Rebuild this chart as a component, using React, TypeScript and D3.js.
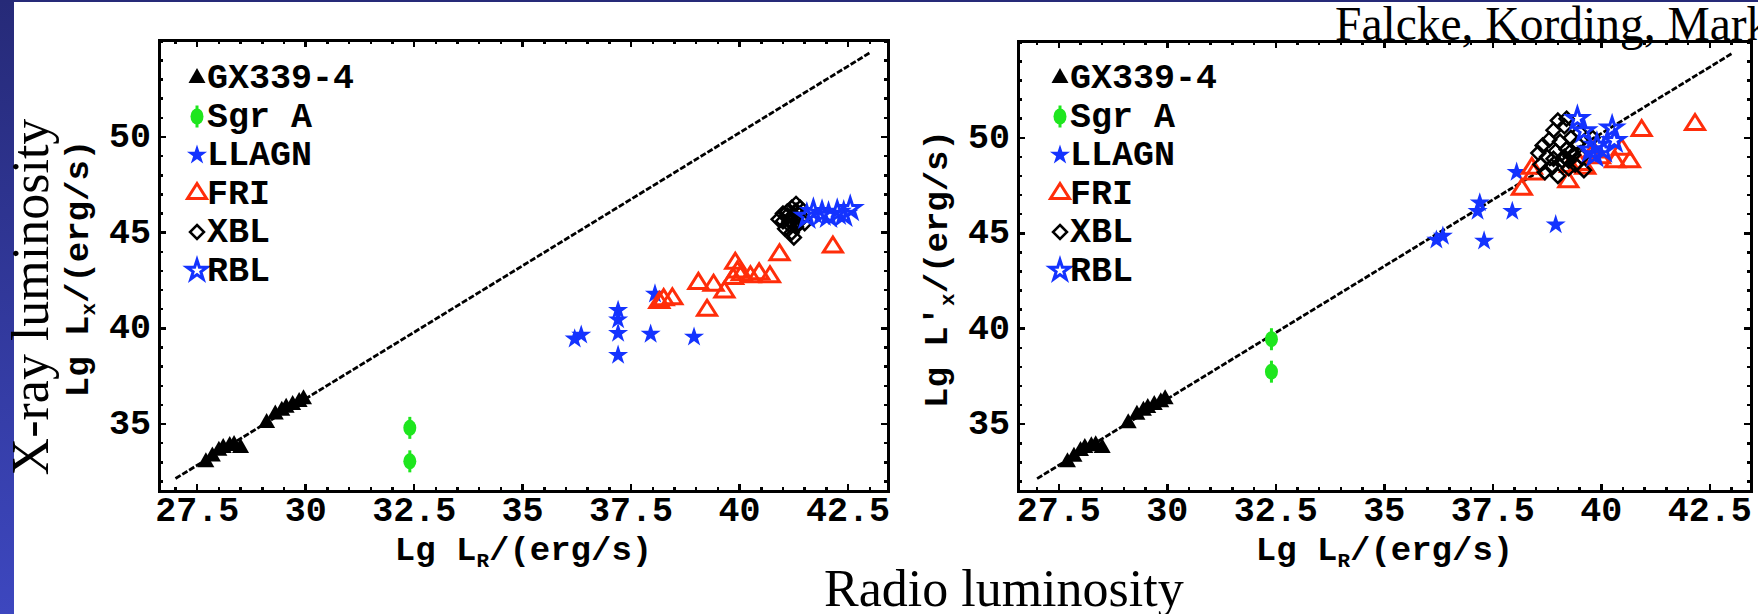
import React from 'react';
import * as d3 from 'd3';

const W = 1758;
const H = 614;

// GX339-4, same in both panels
const gxX = [27.7, 27.85, 28.0, 28.1, 28.25, 28.35, 28.5, 29.1, 29.3, 29.45, 29.55, 29.7, 29.85, 29.95];
const gxY = [33.0, 33.3, 33.6, 33.75, 33.85, 33.9, 33.75, 35.05, 35.5, 35.7, 35.85, 36.0, 36.15, 36.3];

// Sgr A
const sgrX = [32.4, 32.4];
const sgrYLeft = [34.8, 33.05];
const sgrYRight = [39.45, 37.75];

// LLAGN
const llagnXLeft = [36.2, 36.35, 37.2, 37.2, 37.2, 37.2, 37.95, 38.95, 38.05];
const llagnYLeft = [39.45, 39.65, 40.95, 40.45, 39.75, 38.6, 39.7, 39.55, 41.8];
const llagnXRight = [36.2, 36.35, 37.2, 37.15, 37.3, 37.95, 38.95, 38.05];
const llagnYRight = [44.65, 44.85, 46.6, 46.15, 44.6, 46.15, 45.45, 48.2];

// FRI
const friXLeft = [38.15, 38.25, 38.45, 39.05, 39.4, 39.65, 39.25, 39.9, 39.95, 39.85, 40.05, 40.25, 40.45, 40.7, 40.92, 42.15];
const friYLeft = [41.35, 41.5, 41.55, 42.35, 42.25, 41.9, 40.95, 43.4, 42.95, 42.6, 42.8, 42.7, 42.85, 42.7, 43.85, 44.25];
const friXRight = [38.17, 38.44, 39.24, 39.63, 39.97, 39.51, 39.28, 40.32, 40.66, 40.47, 40.93, 42.16, 39.82, 38.4];
const friYRight = [47.3, 48.1, 47.7, 48.4, 48.95, 48.6, 48.5, 48.75, 48.75, 49.4, 50.38, 50.7, 49.25, 48.4];

// XBL
const xblXLeft = [41.0, 41.1, 41.2, 41.3, 41.15, 41.25, 41.35, 41.45, 41.05, 41.3, 41.4, 40.9, 41.2, 41.25, 41.5, 41.1, 41.35, 41.0, 41.2, 41.3, 41.15, 41.25];
const xblYLeft = [45.6, 45.9, 46.3, 46.5, 45.4, 45.7, 46.0, 45.8, 45.2, 45.3, 46.3, 45.7, 45.0, 44.75, 45.5, 46.1, 45.55, 46.0, 45.85, 46.15, 45.6, 45.45];
const xblXRight = [38.55, 38.6, 38.65, 38.7, 38.75, 38.8, 38.85, 38.9, 38.95, 39.0, 39.05, 39.1, 39.15, 39.2, 39.25, 39.3, 39.35, 39.4, 39.45, 39.5, 39.55, 39.6, 39.7, 39.8, 38.9, 39.0, 39.2, 39.15, 39.3, 39.25];
const xblYRight = [49.2, 48.6, 49.6, 48.2, 49.0, 49.9, 48.5, 50.4, 49.3, 48.0, 49.8, 48.8, 50.6, 49.4, 48.4, 50.0, 49.1, 48.6, 49.7, 50.3, 49.0, 48.3, 49.5, 50.0, 48.9, 50.9, 51.0, 49.0, 49.3, 48.8];

// RBL
const rblXLeft = [41.55, 41.7, 41.9, 42.05, 42.25, 42.4, 42.55];
const rblYLeft = [45.85, 46.1, 46.0, 45.9, 46.05, 45.95, 46.25];
const rblXRight = [39.45, 39.6, 39.75, 39.9, 40.05, 40.25, 40.3, 39.85];
const rblYRight = [51.0, 50.35, 49.35, 49.6, 49.35, 50.5, 49.85, 49.1];

// relation line
const lineX = [27.0, 43.0];
const lineY = [32.15, 54.4];

const xTicks = [27.5, 30, 32.5, 35, 37.5, 40, 42.5];
const xTickLabels = ['27.5', '30', '32.5', '35', '37.5', '40', '42.5'];
const yTicks = [35, 40, 45, 50];
const yTickLabels = ['35', '40', '45', '50'];
const legendNames = ['GX339-4', 'Sgr A', 'LLAGN', 'FRI', 'XBL', 'RBL'];
const legendKinds = ['gx', 'sgr', 'llagn', 'fri', 'xbl', 'rbl'];

const mono = '"Liberation Mono", "DejaVu Sans Mono", monospace';
const serif = '"Liberation Serif", "DejaVu Serif", serif';
const BLUE = '#1433ff';
const RED = '#ff2d0a';
const GREEN = '#1ee61e';

const tri = (w: number, h: number) => `M0,${(-h * 2) / 3}L${w / 2},${h / 3}L${-w / 2},${h / 3}Z`;
const diamond = (r: number) => `M0,${-r}L${r},0L0,${r}L${-r},0Z`;
const starPath = d3.symbol().type(d3.symbolStar).size(125)() as string;

function Marker({ kind, x, y }: { kind: string; x: number; y: number }) {
  const t = `translate(${x},${y})`;
  if (kind === 'gx') return <path transform={t} d={tri(17, 15)} fill="#000" />;
  if (kind === 'sgr')
    return (
      <g transform={t}>
        <line y1={-11} y2={11} stroke={GREEN} strokeWidth={3} />
        <ellipse rx={6.5} ry={8} fill={GREEN} />
      </g>
    );
  if (kind === 'llagn') return <path transform={t} d={starPath} fill={BLUE} />;
  if (kind === 'fri') return <path transform={t} d={tri(19, 15)} fill="none" stroke={RED} strokeWidth={3} />;
  if (kind === 'xbl') return <path transform={t} d={diamond(7)} fill="none" stroke="#000" strokeWidth={2.5} />;
  return <path transform={t} d={starPath} fill="none" stroke={BLUE} strokeWidth={3} />;
}

type Series = { kind: string; xs: number[]; ys: number[] };

function Panel({
  id, x0, x1, y0, y1, xDomain, yDomain, series, legendX, yLabelX, prime,
}: {
  id: string; x0: number; x1: number; y0: number; y1: number;
  xDomain: number[]; yDomain: number[]; series: Series[];
  legendX: number; yLabelX: number; prime: boolean;
}) {
  const x = d3.scaleLinear().domain(xDomain).range([x0, x1]);
  const y = d3.scaleLinear().domain(yDomain).range([y1, y0]);
  const xMinor = d3.range(27, 43.25, 0.5).filter(v => !xTicks.includes(v));
  const yMinor = d3.range(32, 56, 1).filter(v => !yTicks.includes(v) && v < yDomain[1]);
  const line = d3.line<number>().x((_, i) => x(lineX[i])).y(d => y(d));
  const cy = (y0 + y1) / 2;
  const major = 7;
  const minor = 4;

  return (
    <g>
      <defs>
        <clipPath id={id}>
          <rect x={x0} y={y0} width={x1 - x0} height={y1 - y0} />
        </clipPath>
      </defs>
      <g clipPath={`url(#${id})`}>
        <path d={line(lineY) as string} fill="none" stroke="#000" strokeWidth={2.8} strokeDasharray="6,2" />
        {series.map(s =>
          s.xs.map((v, i) => <Marker key={s.kind + i} kind={s.kind} x={x(v)} y={y(s.ys[i])} />)
        )}
      </g>

      {/* ticks */}
      <g stroke="#000" strokeWidth={2.5} shapeRendering="crispEdges">
        {xTicks.map(v => (
          <g key={'xt' + v}>
            <line x1={x(v)} x2={x(v)} y1={y1} y2={y1 - major} />
            <line x1={x(v)} x2={x(v)} y1={y0} y2={y0 + major} />
          </g>
        ))}
        {xMinor.map(v => (
          <g key={'xm' + v}>
            <line x1={x(v)} x2={x(v)} y1={y1} y2={y1 - minor} />
            <line x1={x(v)} x2={x(v)} y1={y0} y2={y0 + minor} />
          </g>
        ))}
        {yTicks.map(v => (
          <g key={'yt' + v}>
            <line x1={x0} x2={x0 + major} y1={y(v)} y2={y(v)} />
            <line x1={x1} x2={x1 - major} y1={y(v)} y2={y(v)} />
          </g>
        ))}
        {yMinor.map(v => (
          <g key={'ym' + v}>
            <line x1={x0} x2={x0 + minor} y1={y(v)} y2={y(v)} />
            <line x1={x1} x2={x1 - minor} y1={y(v)} y2={y(v)} />
          </g>
        ))}
      </g>
      <rect x={x0} y={y0} width={x1 - x0} height={y1 - y0} fill="none" stroke="#000" strokeWidth={3} shapeRendering="crispEdges" />

      {/* tick labels */}
      <g fontFamily={mono} fontWeight="bold" fontSize={35} fill="#000">
        {xTicks.map((v, i) => (
          <text key={'xl' + v} x={x(v)} y={y1 + 30} textAnchor="middle">{xTickLabels[i]}</text>
        ))}
        {yTicks.map((v, i) => (
          <text key={'yl' + v} x={x0 - 8} y={y(v) + 10} textAnchor="end">{yTickLabels[i]}</text>
        ))}
        <text x={(x0 + x1) / 2} y={560} textAnchor="middle" fontSize={34}>
          Lg L<tspan fontSize={21} dy={7}>R</tspan><tspan dy={-7}>/(erg/s)</tspan>
        </text>
        <text transform={`translate(${yLabelX},${cy + 3}) rotate(-90)`} textAnchor="middle" fontSize={34}>
          {prime ? "Lg L'" : 'Lg L'}<tspan fontSize={21} dy={7}>x</tspan><tspan dy={-7}>/(erg/s)</tspan>
        </text>
      </g>

      {/* legend */}
      <g fontFamily={mono} fontWeight="bold" fontSize={35} fill="#000">
        {legendNames.map((n, i) => {
          const ly = 78 + i * 38.5;
          return (
            <g key={n}>
              <Marker kind={legendKinds[i]} x={legendX} y={ly} />
              <text x={legendX + 10} y={ly + 10}>{n}</text>
            </g>
          );
        })}
      </g>
    </g>
  );
}

export default function App() {
  const leftSeries: Series[] = [
    { kind: 'gx', xs: gxX, ys: gxY },
    { kind: 'sgr', xs: sgrX, ys: sgrYLeft },
    { kind: 'llagn', xs: llagnXLeft, ys: llagnYLeft },
    { kind: 'fri', xs: friXLeft, ys: friYLeft },
    { kind: 'xbl', xs: xblXLeft, ys: xblYLeft },
    { kind: 'rbl', xs: rblXLeft, ys: rblYLeft },
  ];
  const rightSeries: Series[] = [
    { kind: 'gx', xs: gxX, ys: gxY },
    { kind: 'sgr', xs: sgrX, ys: sgrYRight },
    { kind: 'llagn', xs: llagnXRight, ys: llagnYRight },
    { kind: 'fri', xs: friXRight, ys: friYRight },
    { kind: 'xbl', xs: xblXRight, ys: xblYRight },
    { kind: 'rbl', xs: rblXRight, ys: rblYRight },
  ];

  return (
    <div style={{ position: 'absolute', left: 0, top: 0 }}>
      <svg width={W} height={H} style={{ display: 'block', overflow: 'hidden' }}>
        <defs>
          <linearGradient id="strip" x1="0" y1="0" x2="0" y2="1">
            <stop offset="0" stopColor="#262a78" />
            <stop offset="1" stopColor="#3d47bf" />
          </linearGradient>
        </defs>
        <rect width={W} height={H} fill="#fff" />
        <rect x={0} y={0} width={14} height={H} fill="url(#strip)" />
        <rect x={0} y={0} width={W} height={2} fill="#262a78" />

        <Panel id="clipL" x0={159} x1={888} y0={40} y1={491}
          xDomain={[26.62, 43.42]} yDomain={[31.5, 55.07]}
          series={leftSeries} legendX={197} yLabelX={88} prime={false} />
        <Panel id="clipR" x0={1018} x1={1751} y0={41} y1={491}
          xDomain={[26.56, 43.45]} yDomain={[31.5, 55.07]}
          series={rightSeries} legendX={1060} yLabelX={947} prime={true} />

        <text transform="translate(48,297) rotate(-90)" textAnchor="middle" fontFamily={serif} fontSize={52} fill="#000">
          X-ray luminosity
        </text>
        <text x={824} y={606} fontFamily={serif} fontSize={52} fill="#000">Radio luminosity</text>
        <text x={1335} y={40} fontFamily={serif} fontSize={47.5} fill="#000">Falcke, Kording, Markoff</text>
      </svg>
    </div>
  );
}
